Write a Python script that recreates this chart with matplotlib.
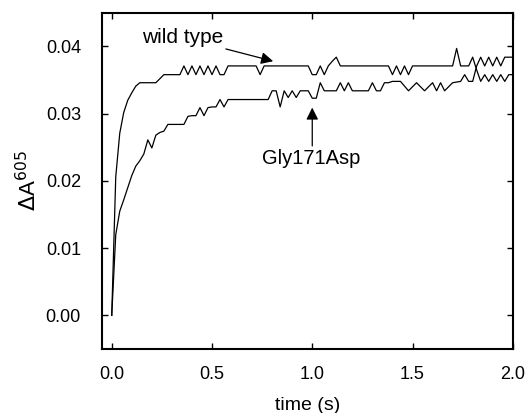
import numpy as np
import matplotlib
matplotlib.use("Agg")
import matplotlib.pyplot as plt

plt.rcParams['font.family'] = ['Liberation Sans', 'DejaVu Sans']

# time base: one sample every 0.02 s, 0 .. 2 s
time = np.linspace(0.0, 2.0, 101)

wild_type = [
    0.0, 0.0206, 0.0271, 0.0302, 0.0320, 0.0331, 0.0341, 0.0346, 0.0346, 0.0346,
    0.0346, 0.0346, 0.0352, 0.0358, 0.0358, 0.0358, 0.0358, 0.0358, 0.0371, 0.0358,
    0.0371, 0.0358, 0.0371, 0.0358, 0.0371, 0.0358, 0.0371, 0.0358, 0.0358, 0.0371,
    0.0371, 0.0371, 0.0371, 0.0371, 0.0371, 0.0371, 0.0371, 0.0358, 0.0371, 0.0371,
    0.0371, 0.0371, 0.0371, 0.0371, 0.0371, 0.0371, 0.0371, 0.0371, 0.0371, 0.0371,
    0.0358, 0.0358, 0.0371, 0.0358, 0.0371, 0.0378, 0.0384, 0.0371, 0.0371, 0.0371,
    0.0371, 0.0371, 0.0371, 0.0371, 0.0371, 0.0371, 0.0371, 0.0371, 0.0371, 0.0371,
    0.0358, 0.0371, 0.0358, 0.0371, 0.0358, 0.0371, 0.0371, 0.0371, 0.0371, 0.0371,
    0.0371, 0.0371, 0.0371, 0.0371, 0.0371, 0.0371, 0.0397, 0.0371, 0.0371, 0.0371,
    0.0384, 0.0365, 0.0348, 0.0358, 0.0348, 0.0358, 0.0348, 0.0358, 0.0348, 0.0358,
    0.0358,
]

gly171asp = [
    0.0, 0.0120, 0.0155, 0.0172, 0.0190, 0.0208, 0.0222, 0.0230, 0.0240, 0.0261,
    0.0249, 0.0268, 0.0272, 0.0274, 0.0284, 0.0284, 0.0284, 0.0284, 0.0284, 0.0296,
    0.0297, 0.0297, 0.0309, 0.0297, 0.0309, 0.0310, 0.0310, 0.0321, 0.0310, 0.0321,
    0.0321, 0.0321, 0.0321, 0.0321, 0.0321, 0.0321, 0.0321, 0.0321, 0.0321, 0.0321,
    0.0334, 0.0334, 0.0310, 0.0334, 0.0324, 0.0334, 0.0324, 0.0334, 0.0334, 0.0334,
    0.0323, 0.0323, 0.0346, 0.0334, 0.0334, 0.0334, 0.0334, 0.0346, 0.0334, 0.0346,
    0.0334, 0.0334, 0.0334, 0.0334, 0.0334, 0.0346, 0.0334, 0.0334, 0.0346, 0.0346,
    0.0348, 0.0348, 0.0348, 0.0341, 0.0334, 0.0340, 0.0346, 0.0340, 0.0334, 0.0340,
    0.0346, 0.0334, 0.0346, 0.0334, 0.0340, 0.0346, 0.0347, 0.0348, 0.0358, 0.0348,
    0.0348, 0.0371, 0.0384, 0.0371, 0.0384, 0.0371, 0.0384, 0.0371, 0.0384, 0.0384,
    0.0384,
]

x_ticks = [0.0, 0.5, 1.0, 1.5, 2.0]
y_ticks = [0.00, 0.01, 0.02, 0.03, 0.04]

fig = plt.figure(figsize=(5.27, 4.13), dpi=100)
ax = fig.add_axes([0.193, 0.155, 0.780, 0.814])

ax.plot(time, wild_type, color='black', linewidth=0.9)
ax.plot(time, gly171asp, color='black', linewidth=0.9)

ax.set_xlim(-0.05, 2.0)
ax.set_ylim(-0.005, 0.045)
ax.set_xticks(x_ticks)
ax.set_xticklabels(['%.1f' % v for v in x_ticks])
ax.set_yticks(y_ticks)
ax.set_yticklabels(['%.2f' % v for v in y_ticks])
ax.tick_params(direction='in', top=True, right=True, length=4, width=1,
               labelsize=13)
ax.tick_params(axis='x', pad=12)
ax.tick_params(axis='y', pad=15)
for sp in ax.spines.values():
    sp.set_linewidth(1.5)

ax.set_xlabel('time (s)', fontsize=14, labelpad=10)
ax.set_ylabel(r'$\Delta$A$^{605}$', fontsize=16, labelpad=3)

ax.annotate('wild type', xy=(0.805, 0.0378), xytext=(0.15, 0.0413),
            fontsize=15, ha='left', va='center',
            arrowprops=dict(arrowstyle='-|>', color='black', lw=0.9,
                            mutation_scale=18, shrinkA=0, shrinkB=0))
ax.annotate('', xy=(1.0, 0.0309), xytext=(1.0, 0.0252),
            arrowprops=dict(arrowstyle='-|>', color='black', lw=0.9,
                            mutation_scale=18, shrinkA=0, shrinkB=0))
ax.text(0.995, 0.0233, 'Gly171Asp', fontsize=14.5, ha='center', va='center')

fig.savefig('out.png', dpi=100)
